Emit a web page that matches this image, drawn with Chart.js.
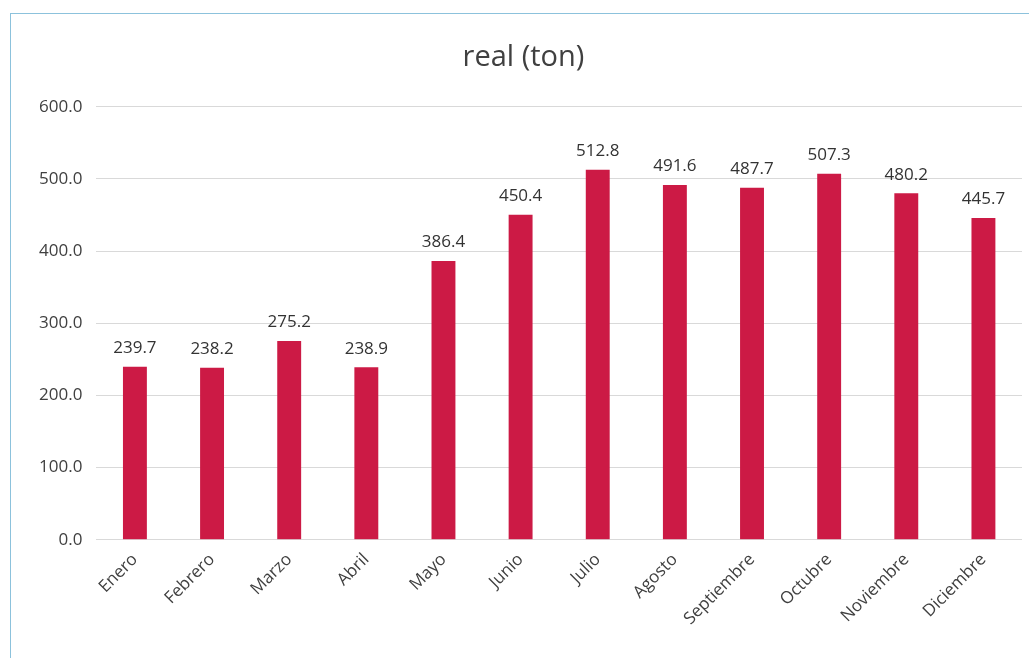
<!DOCTYPE html>
<html>
<head>
<meta charset="utf-8">
<script src="https://cdn.jsdelivr.net/npm/chart.js@4"></script>
<style>
  html, body { margin: 0; padding: 0; background: #fff; overflow: hidden; }
  #frame {
    position: absolute; left: 10px; top: 13px;
    width: 1030px; height: 660px;
    border-left: 1px solid #8cc2dc; border-top: 1px solid #8cc2dc;
  }
  #wrap { position: absolute; left: 0; top: 0; width: 1019px; height: 645px; }
</style>
</head>
<body>
<div id="frame"><div id="wrap"><canvas id="realChart"></canvas></div></div>
<script>
// months and tonnes
const months = ["Enero", "Febrero", "Marzo", "Abril", "Mayo", "Junio", "Julio",
  "Agosto", "Septiembre", "Octubre", "Noviembre", "Diciembre"];
const realTon = [239.7, 238.2, 275.2, 238.9, 386.4, 450.4, 512.8, 491.6, 487.7, 507.3, 480.2, 445.7];
const yTicks = [0, 100, 200, 300, 400, 500, 600];

const fontFam = "'Open Sans', 'Noto Sans', sans-serif";

// draw value above each bar
const valueLabels = {
  id: "valueLabels",
  afterDatasetsDraw(chart) {
    const ctx = chart.ctx;
    const meta = chart.getDatasetMeta(0);
    ctx.save();
    ctx.font = "17px " + fontFam;
    ctx.fillStyle = "#333333";
    ctx.textAlign = "center";
    ctx.textBaseline = "bottom";
    meta.data.forEach(function (bar, i) {
      ctx.fillText(realTon[i].toFixed(1), bar.x, bar.y - 10);
    });
    ctx.restore();
  },
};

let ctx = document.getElementById("realChart").getContext("2d");
new Chart(ctx, {
  type: "bar",
  data: {
    labels: months,
    datasets: [
      {
        data: realTon,
        backgroundColor: "#CC1A45",
        barPercentage: 0.31,
        categoryPercentage: 1.0,
      },
    ],
  },
  options: {
    responsive: true,
    maintainAspectRatio: false,
    animation: false,
    layout: {
      padding: { left: 14, right: 8, top: 10, bottom: 20 },
    },
    plugins: {
      legend: { display: false },
      tooltip: { enabled: false },
      title: {
        display: true,
        text: "real (ton)",
        color: "#404040",
        font: { family: fontFam, size: 29, weight: "normal" },
        padding: { top: 16, bottom: 32 },
      },
    },
    scales: {
      x: {
        grid: { display: false, drawTicks: false },
        border: { display: false },
        ticks: {
          color: "#404040",
          font: { family: fontFam, size: 17 },
          minRotation: 45,
          maxRotation: 45,
          padding: 10,
        },
      },
      y: {
        min: 0,
        max: 600,
        afterBuildTicks: function (axis) {
          axis.ticks = yTicks.map(function (v) { return { value: v }; });
        },
        grid: { color: "#d9d9d9", drawTicks: false },
        border: { display: false },
        ticks: {
          color: "#404040",
          font: { family: fontFam, size: 17 },
          padding: 14,
          callback: function (value) {
            return Number(value).toFixed(1);
          },
        },
      },
    },
  },
  plugins: [valueLabels],
});
</script>
</body>
</html>
